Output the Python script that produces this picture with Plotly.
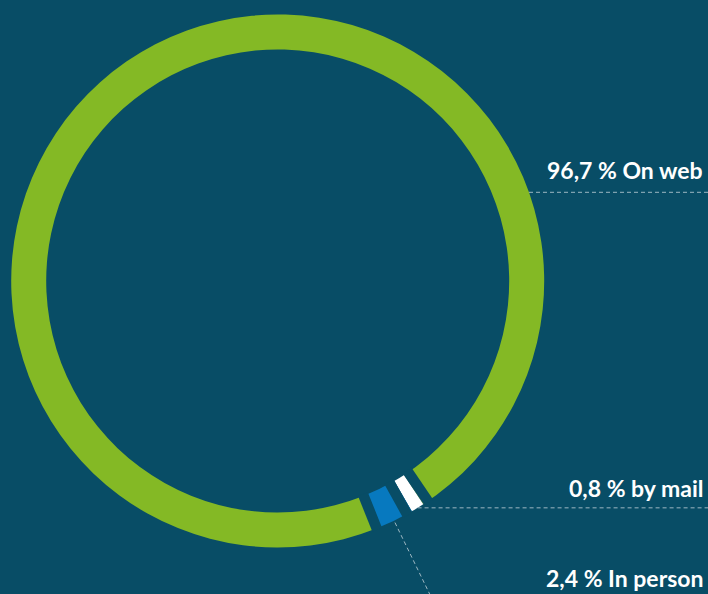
import math
import plotly.graph_objects as go

# ---- data ----
labels = ["On web", "by mail", "In person"]
values = [96.7, 0.8, 2.4]
label_texts = ["96,7 % On web", "0,8 % by mail", "2,4 % In person"]
colors = ["#84b925", "#ffffff", "#0779bf"]

# ---- styling / geometry ----
W, H = 708, 594
BG = "#084d66"
CX, CY = 277.7, 281.0   # pixel centre of ring
R_OUT, R_IN = 266.5, 231.5
ROT = 158.43
GAP_PX = 10.5
# where each separator sits relative to its slice boundary (px along arc, + = clockwise)
GAP_SHIFT = [-GAP_PX / 2, GAP_PX / 2, -1.0]

fig = go.Figure(go.Pie(
    labels=labels, values=values, sort=False, direction="clockwise",
    rotation=ROT, hole=R_IN / R_OUT, textinfo="none", hoverinfo="label+percent",
    marker=dict(colors=colors, line=dict(color=BG, width=0)),
    domain=dict(x=[(CX - R_OUT) / W, (CX + R_OUT) / W],
                y=[(H - CY - R_OUT) / H, (H - CY + R_OUT) / H]),
    showlegend=False,
))

# slice boundaries and mids (clockwise from 12 o'clock)
total = sum(values)
mids, ends = [], []
acc = ROT
for v in values:
    span = 360 * v / total
    mids.append(acc + span / 2)
    acc += span
    ends.append(acc)

def px2paper(x, y):
    return x / W, 1 - y / H

def edge_point(theta, r):
    t = math.radians(theta)
    return CX + r * math.sin(t), CY - r * math.cos(t)

shapes = []
# separators between slices
R_MID = (R_OUT + R_IN) / 2
for b, sh in zip(ends, GAP_SHIFT):
    th = b + math.degrees(sh / R_MID)
    x0, y0 = px2paper(*edge_point(th, R_IN - 2))
    x1, y1 = px2paper(*edge_point(th, R_OUT + 1.5))
    shapes.append(dict(type="line", xref="paper", yref="paper", x0=x0, y0=y0, x1=x1, y1=y1,
                       line=dict(color=BG, width=GAP_PX), layer="above"))

LINE = dict(color="#9db7c2", width=1, dash="4px,3px")
# web label leader (horizontal from ring edge)
y_web = 192.3
x_web = CX + math.sqrt(R_OUT**2 - (CY - y_web) ** 2)
x0, y0 = px2paper(x_web, y_web)
shapes.append(dict(type="line", xref="paper", yref="paper", x0=x0, y0=y0, x1=1, y1=y0, line=LINE))
# mail leader (horizontal from slice mid)
mx, my = edge_point(mids[1], R_OUT)
x0, y0 = px2paper(mx, my)
shapes.append(dict(type="line", xref="paper", yref="paper", x0=x0, y0=y0, x1=1, y1=y0, line=LINE))
# person leader (radial, down to bottom edge)
sx, sy = edge_point(mids[2], R_OUT + 2)
ex, ey = edge_point(mids[2], R_OUT + 2 + (H - sy) / math.cos(math.radians(180 - mids[2])))
x0, y0 = px2paper(sx, sy)
x1, y1 = px2paper(ex, ey)
shapes.append(dict(type="line", xref="paper", yref="paper", x0=x0, y0=y0, x1=x1, y1=y1, line=LINE))

label_y = [170.5, 487.5, 578.0]
annotations = []
for txt, ly in zip(label_texts, label_y):
    annotations.append(dict(
        text=txt, xref="paper", yref="paper", x=705 / W, y=1 - ly / H,
        xanchor="right", yanchor="middle", showarrow=False,
        font=dict(family="Lato", size=23, color="#ffffff", weight=700),
    ))

fig.update_layout(
    width=W, height=H, margin=dict(l=0, r=0, t=0, b=0),
    paper_bgcolor=BG, plot_bgcolor=BG,
    shapes=shapes, annotations=annotations,
)

fig.write_html("out.html", config={"displayModeBar": False},
               post_script="document.body.style.margin='0';")
